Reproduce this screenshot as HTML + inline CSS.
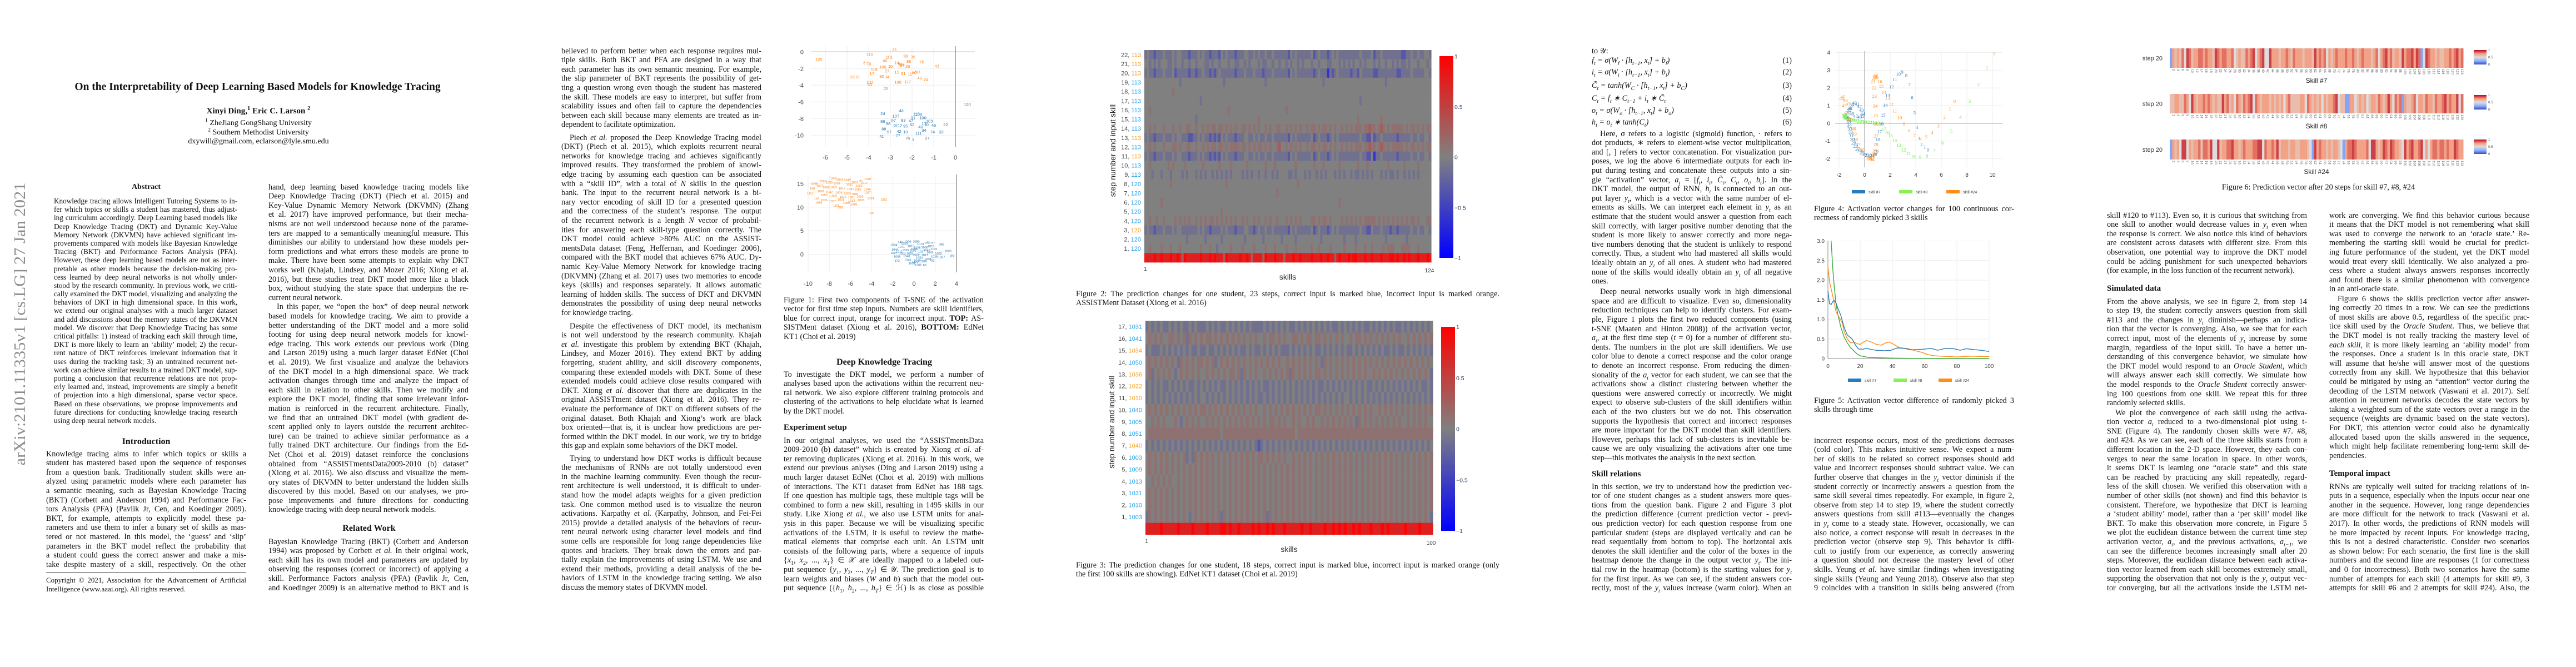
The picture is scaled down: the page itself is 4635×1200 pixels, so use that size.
<!DOCTYPE html>
<html><head><meta charset="utf-8">
<style>
body{margin:0;width:4635px;height:1200px;position:relative;background:#fff;overflow:hidden;font-family:"Liberation Serif",serif;color:#111}
.pg{position:absolute;top:0;width:927px;height:1200px}
.c{position:absolute;width:360px;font-size:14.2px;line-height:16.6px}
.c div{height:16.6px;overflow:hidden;text-align:justify;text-align-last:justify}
.c div.e{text-align-last:left}
.c div.i{text-indent:15px}
.ab{font-size:13.2px;line-height:15.2px;width:330px}
.ab div{height:15.2px}
.h{position:absolute;font-weight:bold;white-space:nowrap}
sub,sup{line-height:0;font-size:70%}
svg text{font-family:"Liberation Sans",sans-serif}
</style></head><body>
<svg id="figs" width="4635" height="1200" style="position:absolute;left:0;top:0" xmlns="http://www.w3.org/2000/svg">
<text x="0" y="0" transform="translate(45,583) rotate(-90)" text-anchor="middle" textLength="509" lengthAdjust="spacingAndGlyphs" style="font-family:'Liberation Serif',serif;font-size:29px;fill:#8c8c8c">arXiv:2101.11335v1  [cs.LG]  27 Jan 2021</text>
</svg>

<!-- PAGE 1 -->
<div class="pg" style="left:0">
<div class="h" style="left:0;width:927px;text-align:center;top:146px;font-size:19.5px">On the Interpretability of Deep Learning Based Models for Knowledge Tracing</div>
<div class="h" style="left:0;width:930px;text-align:center;top:192px;font-size:15px">Xinyi Ding,<sup>1</sup> Eric C. Larson <sup>2</sup></div>
<div style="position:absolute;left:0;width:930px;text-align:center;top:214px;font-size:14px;line-height:16.6px"><sup>1</sup> ZheJiang GongShang University<br><sup>2</sup> Southern Methodist University<br>dxywill@gmail.com, eclarson@lyle.smu.edu</div>
<div class="h" style="left:83px;width:360px;text-align:center;top:329px;font-size:14px">Abstract</div>
<div class="c ab" style="left:97px;top:354px">
<div>Knowledge tracing allows Intelligent Tutoring Systems to in-</div>
<div>fer which topics or skills a student has mastered, thus adjust-</div>
<div>ing curriculum accordingly. Deep Learning based models like</div>
<div>Deep Knowledge Tracing (DKT) and Dynamic Key-Value</div>
<div>Memory Network (DKVMN) have achieved significant im-</div>
<div>provements compared with models like Bayesian Knowledge</div>
<div>Tracing (BKT) and Performance Factors Analysis (PFA).</div>
<div>However, these deep learning based models are not as inter-</div>
<div>pretable as other models because the decision-making pro-</div>
<div>cess learned by deep neural networks is not wholly under-</div>
<div>stood by the research community. In previous work, we criti-</div>
<div>cally examined the DKT model, visualizing and analyzing the</div>
<div>behaviors of DKT in high dimensional space. In this work,</div>
<div>we extend our original analyses with a much larger dataset</div>
<div>and add discussions about the memory states of the DKVMN</div>
<div>model. We discover that Deep Knowledge Tracing has some</div>
<div>critical pitfalls: 1) instead of tracking each skill through time,</div>
<div>DKT is more likely to learn an ‘ability’ model; 2) the recur-</div>
<div>rent nature of DKT reinforces irrelevant information that it</div>
<div>uses during the tracking task; 3) an untrained recurrent net-</div>
<div>work can achieve similar results to a trained DKT model, sup-</div>
<div>porting a conclusion that recurrence relations are not prop-</div>
<div>erly learned and, instead, improvements are simply a benefit</div>
<div>of projection into a high dimensional, sparse vector space.</div>
<div>Based on these observations, we propose improvements and</div>
<div>future directions for conducting knowledge tracing research</div>
<div class="e">using deep neural network models.</div>
</div>
<div class="h" style="left:83px;width:360px;text-align:center;top:786px;font-size:16px">Introduction</div>
<div class="c" style="left:83px;top:808.7px">
<div>Knowledge tracing aims to infer which topics or skills a</div>
<div>student has mastered based upon the sequence of responses</div>
<div>from a question bank. Traditionally student skills were an-</div>
<div>alyzed using parametric models where each parameter has</div>
<div>a semantic meaning, such as Bayesian Knowledge Tracing</div>
<div>(BKT) (Corbett and Anderson 1994) and Performance Fac-</div>
<div>tors Analysis (PFA) (Pavlik Jr, Cen, and Koedinger 2009).</div>
<div>BKT, for example, attempts to explicitly model these pa-</div>
<div>rameters and use them to infer a binary set of skills as mas-</div>
<div>tered or not mastered. In this model, the ‘guess’ and ‘slip’</div>
<div>parameters in the BKT model reflect the probability that</div>
<div>a student could guess the correct answer and make a mis-</div>
<div>take despite mastery of a skill, respectively. On the other</div>
</div>
<div style="position:absolute;left:83px;top:1030px;width:360px;border-top:1px solid #333"></div>
<div class="c" style="left:83px;top:1036px;font-size:13px;line-height:16px">
<div style="height:16px">Copyright © 2021, Association for the Advancement of Artificial</div>
<div class="e" style="height:16px">Intelligence (www.aaai.org). All rights reserved.</div>
</div>
<div class="c" style="left:483px;top:328.7px">
<div>hand, deep learning based knowledge tracing models like</div>
<div>Deep Knowledge Tracing (DKT) (Piech et al. 2015) and</div>
<div>Key-Value Dynamic Memory Network (DKVMN) (Zhang</div>
<div>et al. 2017) have improved performance, but their mecha-</div>
<div>nisms are not well understood because none of the parame-</div>
<div>ters are mapped to a semantically meaningful measure. This</div>
<div>diminishes our ability to understand how these models per-</div>
<div>form predictions and what errors these models are prone to</div>
<div>make. There have been some attempts to explain why DKT</div>
<div>works well (Khajah, Lindsey, and Mozer 2016; Xiong et al.</div>
<div>2016), but these studies treat DKT model more like a black</div>
<div>box, without studying the state space that underpins the re-</div>
<div class="e">current neural network.</div>
<div class="i">In this paper, we “open the box” of deep neural network</div>
<div>based models for knowledge tracing. We aim to provide a</div>
<div>better understanding of the DKT model and a more solid</div>
<div>footing for using deep neural network models for knowl-</div>
<div>edge tracing. This work extends our previous work (Ding</div>
<div>and Larson 2019) using a much larger dataset EdNet (Choi</div>
<div>et al. 2019). We first visualize and analyze the behaviors</div>
<div>of the DKT model in a high dimensional space. We track</div>
<div>activation changes through time and analyze the impact of</div>
<div>each skill in relation to other skills. Then we modify and</div>
<div>explore the DKT model, finding that some irrelevant infor-</div>
<div>mation is reinforced in the recurrent architecture. Finally,</div>
<div>we find that an untrained DKT model (with gradient de-</div>
<div>scent applied only to layers outside the recurrent architec-</div>
<div>ture) can be trained to achieve similar performance as a</div>
<div>fully trained DKT architecture. Our findings from the Ed-</div>
<div>Net (Choi et al. 2019) dataset reinforce the conclusions</div>
<div>obtained from “ASSISTmentsData2009-2010 (b) dataset”</div>
<div>(Xiong et al. 2016). We also discuss and visualize the mem-</div>
<div>ory states of DKVMN to better understand the hidden skills</div>
<div>discovered by this model. Based on our analyses, we pro-</div>
<div>pose improvements and future directions for conducting</div>
<div class="e">knowledge tracing with deep neural network models.</div>
</div>
<div class="h" style="left:483px;width:362px;text-align:center;top:942px;font-size:16px">Related Work</div>
<div class="c" style="left:483px;top:966.7px">
<div>Bayesian Knowledge Tracing (BKT) (Corbett and Anderson</div>
<div>1994) was proposed by Corbett <i>et al.</i> In their original work,</div>
<div>each skill has its own model and parameters are updated by</div>
<div>observing the responses (correct or incorrect) of applying a</div>
<div>skill. Performance Factors analysis (PFA) (Pavlik Jr, Cen,</div>
<div>and Koedinger 2009) is an alternative method to BKT and is</div>
</div>
</div>

<!-- PAGE 2 -->
<div class="pg" style="left:927px">
<div class="c" style="left:83px;top:83.7px">
<div>believed to perform better when each response requires mul-</div>
<div>tiple skills. Both BKT and PFA are designed in a way that</div>
<div>each parameter has its own semantic meaning. For example,</div>
<div>the slip parameter of BKT represents the possibility of get-</div>
<div>ting a question wrong even though the student has mastered</div>
<div>the skill. These models are easy to interpret, but suffer from</div>
<div>scalability issues and often fail to capture the dependencies</div>
<div>between each skill because many elements are treated as in-</div>
<div class="e">dependent to facilitate optimization.</div>
</div>
<div class="c" style="left:83px;top:239.7px">
<div class="i">Piech <i>et al.</i> proposed the Deep Knowledge Tracing model</div>
<div>(DKT) (Piech et al. 2015), which exploits recurrent neural</div>
<div>networks for knowledge tracing and achieves significantly</div>
<div>improved results. They transformed the problem of knowl-</div>
<div>edge tracing by assuming each question can be associated</div>
<div>with a “skill ID”, with a total of <i>N</i> skills in the question</div>
<div>bank. The input to the recurrent neural network is a bi-</div>
<div>nary vector encoding of skill ID for a presented question</div>
<div>and the correctness of the student’s response. The output</div>
<div>of the recurrent network is a length <i>N</i> vector of probabil-</div>
<div>ities for answering each skill-type question correctly. The</div>
<div>DKT model could achieve &gt;80% AUC on the ASSIST-</div>
<div>mentsData dataset (Feng, Heffernan, and Koedinger 2006),</div>
<div>compared with the BKT model that achieves 67% AUC. Dy-</div>
<div>namic Key-Value Memory Network for knowledge tracing</div>
<div>(DKVMN) (Zhang et al. 2017) uses two memories to encode</div>
<div>keys (skills) and responses separately. It allows automatic</div>
<div>learning of hidden skills. The success of DKT and DKVMN</div>
<div>demonstrates the possibility of using deep neural networks</div>
<div class="e">for knowledge tracing.</div>
</div>
<div class="c" style="left:83px;top:578.7px">
<div class="i">Despite the effectiveness of DKT model, its mechanism</div>
<div>is not well understood by the research community. Khajah</div>
<div><i>et al.</i> investigate this problem by extending BKT (Khajah,</div>
<div>Lindsey, and Mozer 2016). They extend BKT by adding</div>
<div>forgetting, student ability, and skill discovery components,</div>
<div>comparing these extended models with DKT. Some of these</div>
<div>extended models could achieve close results compared with</div>
<div>DKT. Xiong <i>et al.</i> discover that there are duplicates in the</div>
<div>original ASSISTment dataset (Xiong et al. 2016). They re-</div>
<div>evaluate the performance of DKT on different subsets of the</div>
<div>original dataset. Both Khajah and Xiong’s work are black</div>
<div>box oriented—that is, it is unclear how predictions are per-</div>
<div>formed within the DKT model. In our work, we try to bridge</div>
<div class="e">this gap and explain some behaviors of the DKT model.</div>
</div>
<div class="c" style="left:83px;top:816.7px">
<div class="i">Trying to understand how DKT works is difficult because</div>
<div>the mechanisms of RNNs are not totally understood even</div>
<div>in the machine learning community. Even though the recur-</div>
<div>rent architecture is well understood, it is difficult to under-</div>
<div>stand how the model adapts weights for a given prediction</div>
<div>task. One common method used is to visualize the neuron</div>
<div>activations. Karpathy <i>et al.</i> (Karpathy, Johnson, and Fei-Fei</div>
<div>2015) provide a detailed analysis of the behaviors of recur-</div>
<div>rent neural network using character level models and find</div>
<div>some cells are responsible for long range dependencies like</div>
<div>quotes and brackets. They break down the errors and par-</div>
<div>tially explain the improvements of using LSTM. We use and</div>
<div>extend their methods, providing a detail analysis of the be-</div>
<div>haviors of LSTM in the knowledge tracing setting. We also</div>
<div class="e">discuss the memory states of DKVMN model.</div>
</div>
<div class="c" style="left:483px;top:531.7px">
<div>Figure 1: First two components of T-SNE of the activation</div>
<div>vector for first time step inputs. Numbers are skill identifiers,</div>
<div>blue for correct input, orange for incorrect input. <b>TOP:</b> AS-</div>
<div>SISTMent dataset (Xiong et al. 2016), <b>BOTTOM:</b> EdNet</div>
<div class="e">KT1 (Choi et al. 2019)</div>
</div>
<div class="h" style="left:483px;width:362px;text-align:center;top:643px;font-size:16px">Deep Knowledge Tracing</div>
<div class="c" style="left:483px;top:665.7px">
<div>To investigate the DKT model, we perform a number of</div>
<div>analyses based upon the activations within the recurrent neu-</div>
<div>ral network. We also explore different training protocols and</div>
<div>clustering of the activations to help elucidate what is learned</div>
<div class="e">by the DKT model.</div>
</div>
<div class="h" style="left:483px;top:761px;font-size:15px">Experiment setup</div>
<div class="c" style="left:483px;top:784.7px">
<div>In our original analyses, we used the “ASSISTmentsData</div>
<div>2009-2010 (b) dataset” which is created by Xiong <i>et al.</i> af-</div>
<div>ter removing duplicates (Xiong et al. 2016). In this work, we</div>
<div>extend our previous anlyses (Ding and Larson 2019) using a</div>
<div>much larger dataset EdNet (Choi et al. 2019) with millions</div>
<div>of interactions. The KT1 dataset from EdNet has 188 tags.</div>
<div>If one question has multiple tags, these multiple tags will be</div>
<div>combined to form a new skill, resulting in 1495 skills in our</div>
<div>study. Like Xiong <i>et al.</i>, we also use LSTM units for anal-</div>
<div>ysis in this paper. Because we will be visualizing specific</div>
<div>activations of the LSTM, it is useful to review the mathe-</div>
<div>matical elements that comprise each unit. An LSTM unit</div>
<div>consists of the following parts, where a sequence of inputs</div>
<div>{<i>x</i><sub>1</sub>, <i>x</i><sub>2</sub>, ..., <i>x<sub>T</sub></i>} ∈ 𝒳 are ideally mapped to a labeled out-</div>
<div>put sequence {<i>y</i><sub>1</sub>, <i>y</i><sub>2</sub>, ..., <i>y<sub>T</sub></i>} ∈ 𝒴. The prediction goal is to</div>
<div>learn weights and biases (<i>W</i> and <i>b</i>) such that the model out-</div>
<div>put sequence ({<i>h</i><sub>1</sub>, <i>h</i><sub>2</sub>, ..., <i>h<sub>T</sub></i>} ∈ ℋ) is as close as possible</div>
</div>
</div>

<!-- PAGE 3 -->
<div class="pg" style="left:1854px">
<div class="c" style="left:82px;top:520.7px;width:762px">
<div>Figure 2: The prediction changes for one student, 23 steps, correct input is marked blue, incorrect input is marked orange.</div>
<div class="e">ASSISTMent Dataset (Xiong et al. 2016)</div>
</div>
<div class="c" style="left:82px;top:1008.7px;width:762px">
<div>Figure 3: The prediction changes for one student, 18 steps, correct input is marked blue, incorrect input is marked orange (only</div>
<div class="e">the first 100 skills are showing). EdNet KT1 dataset (Choi et al. 2019)</div>
</div>
</div>

<!-- PAGE 4 -->
<div class="pg" style="left:2781px">
<div class="c" style="left:83px;top:83.7px">
<div class="e">to 𝒴:</div>
<div class="e" style="position:absolute;top:17px;width:360px;text-align:center;font-style:italic">f<sub>t</sub> = σ(W<sub>f</sub> · [h<sub>t−1</sub>, x<sub>t</sub>] + b<sub>f</sub>)<span style="position:absolute;right:0;font-style:normal">(1)</span></div>
<div class="e" style="position:absolute;top:38px;width:360px;text-align:center;font-style:italic">i<sub>t</sub> = σ(W<sub>i</sub> · [h<sub>t−1</sub>, x<sub>t</sub>] + b<sub>i</sub>)<span style="position:absolute;right:0;font-style:normal">(2)</span></div>
<div class="e" style="position:absolute;top:62px;width:360px;text-align:center;font-style:italic">C̃<sub>t</sub> = tanh(W<sub>C</sub> · [h<sub>t−1</sub>, x<sub>t</sub>] + b<sub>C</sub>)<span style="position:absolute;right:0;font-style:normal">(3)</span></div>
<div class="e" style="position:absolute;top:85px;width:360px;text-align:center;font-style:italic">C<sub>t</sub> = f<sub>t</sub> ∗ C<sub>t−1</sub> + i<sub>t</sub> ∗ C̃<sub>t</sub><span style="position:absolute;right:0;font-style:normal">(4)</span></div>
<div class="e" style="position:absolute;top:107px;width:360px;text-align:center;font-style:italic">o<sub>t</sub> = σ(W<sub>o</sub> · [h<sub>t−1</sub>, x<sub>t</sub>] + b<sub>o</sub>)<span style="position:absolute;right:0;font-style:normal">(5)</span></div>
<div class="e" style="position:absolute;top:128px;width:360px;text-align:center;font-style:italic">h<sub>t</sub> = o<sub>t</sub> ∗ tanh(C<sub>t</sub>)<span style="position:absolute;right:0;font-style:normal">(6)</span></div>
</div>
<div class="c" style="left:83px;top:232.7px">
<div class="i">Here, σ refers to a logistic (sigmoid) function, · refers to</div>
<div>dot products, ∗ refers to element-wise vector multiplication,</div>
<div>and [, ] refers to vector concatenation. For visualization pur-</div>
<div>poses, we log the above 6 intermediate outputs for each in-</div>
<div>put during testing and concatenate these outputs into a sin-</div>
<div>gle “activation” vector, <i>a<sub>t</sub></i> = [<i>f<sub>t</sub>, i<sub>t</sub>, C̃<sub>t</sub>, C<sub>t</sub>, o<sub>t</sub>, h<sub>t</sub></i>]. In the</div>
<div>DKT model, the output of RNN, <i>h<sub>t</sub></i> is connected to an out-</div>
<div>put layer <i>y<sub>t</sub></i>, which is a vector with the same number of el-</div>
<div>ements as skills. We can interpret each element in <i>y<sub>t</sub></i> as an</div>
<div>estimate that the student would answer a question from each</div>
<div>skill correctly, with larger positive number denoting that the</div>
<div>student is more likely to answer correctly and more nega-</div>
<div>tive numbers denoting that the student is unlikely to respond</div>
<div>correctly. Thus, a student who had mastered all skills would</div>
<div>ideally obtain an <i>y<sub>t</sub></i> of all ones. A student who had mastered</div>
<div>none of the skills would ideally obtain an <i>y<sub>t</sub></i> of all negative</div>
<div class="e">ones.</div>
</div>
<div class="c" style="left:83px;top:517.2px">
<div class="i">Deep neural networks usually work in high dimensional</div>
<div>space and are difficult to visualize. Even so, dimensionality</div>
<div>reduction techniques can help to identify clusters. For exam-</div>
<div>ple, Figure 1 plots the first two reduced components (using</div>
<div>t-SNE (Maaten and Hinton 2008)) of the activation vector,</div>
<div><i>a<sub>t</sub></i>, at the first time step (<i>t</i> = 0) for a number of different stu-</div>
<div>dents. The numbers in the plot are skill identifiers. We use</div>
<div>color blue to denote a correct response and the color orange</div>
<div>to denote an incorrect response. From reducing the dimen-</div>
<div>sionality of the <i>a<sub>t</sub></i> vector for each student, we can see that the</div>
<div>activations show a distinct clustering between whether the</div>
<div>questions were answered correctly or incorrectly. We might</div>
<div>expect to observe sub-clusters of the skill identifiers within</div>
<div>each of the two clusters but we do not. This observation</div>
<div>supports the hypothesis that correct and incorrect responses</div>
<div>are more important for the DKT model than skill identifiers.</div>
<div>However, perhaps this lack of sub-clusters is inevitable be-</div>
<div>cause we are only visualizing the activations after one time</div>
<div class="e">step—this motivates the analysis in the next section.</div>
</div>
<div class="h" style="left:83px;top:845px;font-size:15px">Skill relations</div>
<div class="c" style="left:83px;top:867.7px">
<div>In this section, we try to understand how the prediction vec-</div>
<div>tor of one student changes as a student answers more ques-</div>
<div>tions from the question bank. Figure 2 and Figure 3 plot</div>
<div>the prediction difference (current prediction vector - previ-</div>
<div>ous prediction vector) for each question response from one</div>
<div>particular student (steps are displayed vertically and can be</div>
<div>read sequentially from bottom to top). The horizontal axis</div>
<div>denotes the skill identifier and the color of the boxes in the</div>
<div>heatmap denote the change in the output vector <i>y<sub>t</sub></i>. The ini-</div>
<div>tial row in the heatmap (bottom) is the starting values for <i>y<sub>t</sub></i></div>
<div>for the first input. As we can see, if the student answers cor-</div>
<div>rectly, most of the <i>y<sub>t</sub></i> values increase (warm color). When an</div>
</div>
<div class="c" style="left:483px;top:367.7px">
<div>Figure 4: Activation vector changes for 100 continuous cor-</div>
<div class="e">rectness of randomly picked 3 skills</div>
</div>
<div class="c" style="left:483px;top:712.7px">
<div>Figure 5: Activation vector difference of randomly picked 3</div>
<div class="e">skills through time</div>
</div>
<div class="c" style="left:483px;top:784.7px">
<div>incorrect response occurs, most of the predictions decreases</div>
<div>(cold color). This makes intuitive sense. We expect a num-</div>
<div>ber of skills to be related so correct responses should add</div>
<div>value and incorrect responses should subtract value. We can</div>
<div>further observe that changes in the <i>y<sub>t</sub></i> vector diminish if the</div>
<div>student correctly or incorrectly answers a question from the</div>
<div>same skill several times repeatedly. For example, in figure 2,</div>
<div>observe from step 14 to step 19, where the student correctly</div>
<div>answers questions from skill #113—eventually the changes</div>
<div>in <i>y<sub>t</sub></i> come to a steady state. However, occasionally, we can</div>
<div>also notice, a correct response will result in decreases in the</div>
<div>prediction vector (observe step 9). This behavior is diffi-</div>
<div>cult to justify from our experience, as correctly answering</div>
<div>a question should not decrease the mastery level of other</div>
<div>skills. Yeung <i>et al.</i> have similar findings when investigating</div>
<div>single skills (Yeung and Yeung 2018). Observe also that step</div>
<div>9 coincides with a transition in skills being answered (from</div>
</div>
</div>

<!-- PAGE 5 -->
<div class="pg" style="left:3708px">
<div style="position:absolute;left:0;width:927px;text-align:center;top:329px;font-size:14.2px;line-height:16.6px">Figure 6: Prediction vector after 20 steps for skill #7, #8, #24</div>
<div class="c" style="left:83px;top:379.7px">
<div>skill #120 to #113). Even so, it is curious that switching from</div>
<div>one skill to another would decrease values in <i>y<sub>t</sub></i> even when</div>
<div>the response is correct. We also notice this kind of behaviors</div>
<div>are consistent across datasets with different size. From this</div>
<div>observation, one potential way to improve the DKT model</div>
<div>could be adding punishment for such unexpected behaviors</div>
<div class="e">(for example, in the loss function of the recurrent network).</div>
</div>
<div class="h" style="left:83px;top:511px;font-size:15px">Simulated data</div>
<div class="c" style="left:83px;top:534.7px">
<div>From the above analysis, we see in figure 2, from step 14</div>
<div>to step 19, the student correctly answers question from skill</div>
<div>#113 and the changes in <i>y<sub>t</sub></i> diminish—perhaps an indica-</div>
<div>tion that the vector is converging. Also, we see that for each</div>
<div>correct input, most of the elements of <i>y<sub>t</sub></i> increase by some</div>
<div>margin, regardless of the input skill. To have a better un-</div>
<div>derstanding of this convergence behavior, we simulate how</div>
<div>the DKT model would respond to an <i>Oracle Student</i>, which</div>
<div>will always answer each skill correctly. We simulate how</div>
<div>the model responds to the <i>Oracle Student</i> correctly answer-</div>
<div>ing 100 questions from one skill. We repeat this for three</div>
<div class="e">randomly selected skills.</div>
</div>
<div class="c" style="left:83px;top:734.7px">
<div class="i">We plot the convergence of each skill using the activa-</div>
<div>tion vector <i>a<sub>t</sub></i> reduced to a two-dimensional plot using t-</div>
<div>SNE (Figure 4). The randomly chosen skills were #7. #8,</div>
<div>and #24. As we can see, each of the three skills starts from a</div>
<div>different location in the 2-D space. However, they each con-</div>
<div>verges to near the same location in space. In other words,</div>
<div>it seems DKT is learning one “oracle state” and this state</div>
<div>can be reached by practicing any skill repeatedly, regard-</div>
<div>less of the skill chosen. We verified this observation with a</div>
<div>number of other skills (not shown) and find this behavior is</div>
<div>consistent. Therefore, we hypothesize that DKT is learning</div>
<div>a ‘student ability’ model, rather than a ‘per skill’ model like</div>
<div>BKT. To make this observation more concrete, in Figure 5</div>
<div>we plot the euclidean distance between the current time step</div>
<div>activation vector, <i>a<sub>t</sub></i>, and the previous activations, <i>a<sub>t−1</sub></i>, we</div>
<div>can see the difference becomes increasingly small after 20</div>
<div>steps. Moreover, the euclidean distance between each activa-</div>
<div>tion vector learned from each skill becomes extremely small,</div>
<div>supporting the observation that not only is the <i>y<sub>t</sub></i> output vec-</div>
<div>tor converging, but all the activations inside the LSTM net-</div>
</div>
<div class="c" style="left:483px;top:379.7px">
<div>work are converging. We find this behavior curious because</div>
<div>it means that the DKT model is not remembering what skill</div>
<div>was used to converge the network to an ‘oracle state.’ Re-</div>
<div>membering the starting skill would be crucial for predict-</div>
<div>ing future performance of the student, yet the DKT model</div>
<div>would treat every skill identically. We also analyzed a pro-</div>
<div>cess where a student always answers responses incorrectly</div>
<div>and found there is a similar phenomenon with convergence</div>
<div class="e">in an anti-oracle state.</div>
</div>
<div class="c" style="left:483px;top:529.7px">
<div class="i">Figure 6 shows the skills prediction vector after answer-</div>
<div>ing correctly 20 times in a row. We can see the predictions</div>
<div>of most skills are above 0.5, regardless of the specific prac-</div>
<div>tice skill used by the <i>Oracle Student</i>. Thus, we believe that</div>
<div>the DKT model is not really tracking the mastery level of</div>
<div><i>each skill</i>, it is more likely learning an ‘ability model’ from</div>
<div>the responses. Once a student is in this oracle state, DKT</div>
<div>will assume that he/she will answer most of the questions</div>
<div>correctly from any skill. We hypothesize that this behavior</div>
<div>could be mitigated by using an “attention” vector during the</div>
<div>decoding of the LSTM network (Vaswani et al. 2017). Self</div>
<div>attention in recurrent networks decodes the state vectors by</div>
<div>taking a weighted sum of the state vectors over a range in the</div>
<div>sequence (weights are dynamic based on the state vectors).</div>
<div>For DKT, this attention vector could also be dynamically</div>
<div>allocated based upon the skills answered in the sequence,</div>
<div>which might help facilitate remembering long-term skill de-</div>
<div class="e">pendencies.</div>
</div>
<div class="h" style="left:483px;top:844px;font-size:15px">Temporal impact</div>
<div class="c" style="left:483px;top:867.7px">
<div>RNNs are typically well suited for tracking relations of in-</div>
<div>puts in a sequence, especially when the inputs occur near one</div>
<div>another in the sequence. However, long range dependencies</div>
<div>are more difficult for the network to track (Vaswani et al.</div>
<div>2017). In other words, the predictions of RNN models will</div>
<div>be more impacted by recent inputs. For knowledge tracing,</div>
<div>this is not a desired characteristic. Consider two scenarios</div>
<div>as shown below: For each scenario, the first line is the skill</div>
<div>numbers and the second line are responses (1 for correctness</div>
<div>and 0 for incorrectness). Both two scenarios have the same</div>
<div>number of attempts for each skill (4 attempts for skill #9, 3</div>
<div>attempts for skill #6 and 2 attempts for skill #24). Also, the</div>
</div>
</div>

<script>
// ===== Figure 1 data (t-SNE) =====
const f1TopOrange=[["41",-2.8,0.3],["110",-3.95,-0.3],["101",-3.05,-0.65],["38",-2.3,-0.5],["36",-1.95,-0.6],["86",-2.15,-1.15],["76",-1.55,-1.2],["43",-0.85,-1.7],["3",-4.2,-1.3],["79",-4.0,-1.45],["40",-3.25,-1.05],["88",-2.45,-1.5],["14",-2.7,-1.3],["9",-2.6,-1.45],["87",-2.45,-1.6],["10",-3.0,-1.75],["100",-3.35,-1.8],["26",-2.2,-1.75],["119",-3.75,-2.15],["57",-3.15,-2.3],["15",-2.7,-2.45],["91",-2.4,-2.6],["11",-2.1,-2.65],["59",-1.75,-2.4],["60",-1.9,-2.5],["17",-3.85,-2.6],["48",-1.65,-3.15],["24",-1.35,-3.35],["22",-4.75,-3.0],["21",-4.5,-3.0],["34",-3.15,-3.0],["30",-3.4,-2.95],["108",-2.65,-3.65],["117",-2.2,-3.6],["103",-3.95,-3.65],["33",-3.95,-3.95],["25",-3.2,-4.4],["120",-6.3,-0.9]];
const f1TopBlue=[["43",-2.5,-7.05],["24",-3.35,-7.4],["107",-2.75,-7.7],["110",-1.8,-7.45],["108",-1.7,-7.5],["31",-1.95,-7.9],["100",-1.5,-7.9],["103",-1.2,-8.3],["86",-3.35,-8.35],["97",-2.85,-8.25],["47",-2.05,-8.25],["83",-2.4,-8.2],["17",-1.45,-8.6],["65",-1.3,-8.7],["46",-1.0,-8.8],["22",-0.45,-8.75],["98",-3.1,-8.6],["5",-2.8,-8.8],["112",-2.6,-8.85],["95",-2.3,-8.9],["62",-2.0,-8.75],["40",-1.6,-9.0],["88",-3.3,-9.25],["34",-1.45,-9.4],["57",-3.05,-9.6],["42",-2.6,-9.55],["19",-2.3,-9.6],["111",-1.7,-9.75],["74",-1.05,-9.6],["32",-0.65,-9.6],["41",-3.4,-10.15],["77",-2.65,-10.05],["76",-2.2,-10.35],["1",-1.95,-10.55],["27",-1.3,-10.35],["120",0.55,-6.35]];
const f1BotOrange=[["1065",-7.6,16.2],["1004",-7.0,15.9],["1049",-6.3,15.8],["91",-5.0,15.6],["1020",-4.4,16.0],["1017",-4.7,15.2],["1007",-5.6,15.3],["1085",-8.6,15.5],["1055",-8.0,15.3],["1039",-7.3,15.1],["1011",-6.1,14.9],["1002",-5.2,14.6],["1045",-4.4,13.8],["1098",-9.4,15.0],["1037",-8.9,14.5],["148",-9.6,14.0],["1060",-8.3,14.2],["1023",-7.6,14.3],["1014",-6.8,14.0],["1031",-6.0,13.9],["1086",-5.3,13.8],["1112",-9.8,13.0],["1069",-8.8,13.4],["1042",-8.0,13.2],["1009",-7.1,13.1],["1003",-6.3,13.0],["1048",-5.6,12.8],["1027",-4.4,13.1],["1050",-8.5,12.6],["1029",-7.6,12.4],["1016",-6.7,12.2],["1061",-5.9,12.1],["1030",-5.1,12.3],["1094",-4.1,11.9],["197",-9.2,11.8],["1036",-8.5,11.5],["1057",-7.7,11.3],["1021",-6.9,11.6],["1012",-5.9,11.4],["1093",-5.0,11.5],["1052",-2.85,11.6],["1059",-9.0,11.0],["1080",-6.4,10.9],["1078",-5.7,10.6],["1111",-7.35,10.4],["281",-6.9,10.0],["190",-4.0,8.8]];
const f1BotBlue=[["140",-1.3,2.6],["1006",-0.6,2.7],["1050",0.2,2.7],["454",1.3,2.5],["57",1.8,2.4],["389",2.6,2.1],["1033",-0.9,2.3],["1019",0.6,2.2],["1015",1.6,1.7],["1004",-1.9,2.0],["1071",-1.2,1.6],["1012",-0.3,1.8],["1026",0.3,1.4],["1008",1.0,1.5],["1021",1.9,1.1],["1898",3.2,0.7],["1044",-1.8,1.0],["1039",-0.8,0.9],["1001",-0.1,0.8],["1017",0.7,0.6],["1041",1.5,0.4],["1062",2.3,0.2],["89",3.6,-0.35],["1097",-1.9,0.3],["1002",-1.1,0.1],["1025",-0.4,0.2],["1009",0.2,-0.1],["1013",1.0,-0.2],["1038",1.9,-0.5],["1067",2.6,-0.6],["1005",-1.6,-0.5],["1048",-0.7,-0.4],["1054",0.5,-0.7],["1003",1.3,-1.0],["752",1.7,-1.3],["372",-1.6,-1.35],["1043",-0.6,-1.2],["1049",0.3,-1.3],["1031",-0.2,-1.9],["1130",0.1,-1.6],["1306",0.4,-2.25],["63",1.0,-2.3],["1028",0.9,-1.5],["1011",-1.4,0.6],["1036",0.0,1.1],["1047",1.2,0.9]];
const f1TopTicksX=[-6,-5,-4,-3,-2,-1,0];
const f1TopTicksY=[0,-2,-4,-6,-8,-10];
const f1BotTicksX=[-10,-8,-6,-4,-2,0,2,4];
const f1BotTicksY=[15,10,5,0];

// ===== Figure 2 / 3 data (heatmaps); digit codes map to values via hmLevels =====
const hmLevels=[-1,-0.6,-0.32,-0.12,0,0.12,0.3,0.75,0.95];
const hm1Steps=[22,21,20,19,18,17,16,15,14,13,12,11,10,9,8,7,6,5,4,3,2,1];
const hm1Skills=[113,113,113,113,113,113,113,113,113,113,113,113,113,113,120,120,120,120,120,120,120,120];
const hm1Correct=[0,0,0,1,1,1,1,1,1,0,1,0,1,1,1,1,1,1,1,0,1,1];
const hm1NumSkills=124;
const hm1Rows=[
"3433233343 3343443332 3334343323 3324343332 3334433434 3343343333 3324343333 3342343332 3434333333 3334333342 3343333333 3223343343 3443",
"4434343444 3343443443 4434443343 4434443443 3443434443 4334434434 4343443434 4434434443 3444343434 3443434443 4344344343 4334344434 4434",
"3433233343 3342333332 3323343323 2343333332 3334333433 3233343333 3324343333 3332343331 3234333332 3324333332 2333333332 2333343333 3443",
"4444444444 4444434444 4444444444 4444344444 4444444444 4434444444 4444444444 4444444344 4444444444 4444444444 4444344444 4444444444 4444",
"4444444444 4454444444 4444444444 4444444444 4444444444 4444444444 4444444444 4444444444 4444444444 4444444444 4444444444 4444444444 4444",
"4444444444 4444444444 4444344444 4444444444 4444444444 4444444444 4444444444 4444444444 4444444444 4443444444 4444444444 4444444444 4444",
"4454444444 4444444444 4444444444 4444445444 4444444444 4444444444 4544444444 4444444444 4444444444 4444444444 4444444444 4444444444 4444",
"4444444444 4444444444 4434444444 4444444444 4444444445 4444444444 4444444444 4444444444 4444444444 4454444444 4454444444 4444444444 4444",
"4454544454 4454454455 4454454545 5455454545 4455454545 4454544554 4545454544 5455454554 5454454545 4555455655 4565454555 5545455454 5455",
"3433233343 3343443332 2334343323 2324343332 3334433434 3343343333 3324343333 3342343332 3434333333 3334332242 3343333332 3333343343 3443",
"4454544454 4455454455 4454454545 5455454555 5455454545 5454544564 4545454544 5455454554 5454454545 4555455655 4565454555 5545455454 5455",
"3433233343 3343443332 3334343323 2324343332 3334433434 3343343333 3324343333 3342343332 3434333333 3334332241 3343333332 3333343343 3443",
"4454444444 5454444544 4444454444 4454444544 4444544444 4454445444 4444454444 4445444544 4444544444 4454445444 4444454444 4454444454 4444",
"4443444344 4344443434 4434343443 4343434344 4434343443 4434434344 4433434443 4344343434 4434343443 4334343434 4434343343 4434343434 4444",
"4444444444 4544444444 4444444444 4444454444 4444444444 4444444444 4444445444 4444444444 4444444444 4444444444 4444444444 4444444444 4444",
"4444444444 4444444444 4444444444 4444444444 4444444444 4444444544 4444444444 4444444444 4444444444 4444444444 4444444444 4444444444 4444",
"4444444544 4444444444 4444444444 4444444444 4444444444 4444444444 4444444444 4444444444 4444544444 4444444444 4444444444 4444444444 4444",
"4444444444 4444444444 4444444444 4445444444 4444444444 4444444444 4444444444 4444444444 4444444444 4444444444 4444444444 4444444444 4444",
"4454454454 4445454545 4454545455 4545454545 4454544545 4454544544 4545454544 4455454554 5444454545 4545455555 4545454545 4545455454 4455",
"3433233343 3343443333 3334343323 3334343332 3334433234 3343343333 3324343333 3342343332 3434333333 3334332243 3343332332 3333343343 3443",
"4444444444 4444444434 4444443444 4443444444 4443444444 4344444443 4444434444 4444443444 4444443444 4344444444 4444344444 4443444444 4444",
"4454444544 4544454444 4444544454 4344444544 4454444544 4454445444 4544454444 4454454444 5444445444 4544454454 4445455544 4555544454 4444",
"7777877877 7877876877 7777877787 8777687777 7877876777 7687778777 6777877877 7787778778 7767877787 8877787787 7787778878 7787877787 7787"];
const hm2Steps=[17,16,15,14,13,12,11,10,9,8,7,6,5,4,3,2,1];
const hm2Skills=[1031,1041,1034,1050,1036,1022,1010,1040,1005,1051,1040,1003,1009,1013,1031,1010,1003];
const hm2Correct=[1,1,0,1,0,0,0,1,1,1,0,1,1,1,1,1,1];
const hm2NumSkills=100;
const hm2Rows=[
"3434343343 4343343433 3434343343 4343434333 3434343434 3343434343 4343433434 3434343343 4343434334 3434343434",
"4545454455 4545354545 4554545454 5454545454 4545545454 4554545545 5454545454 4545545454 5454545454 4545454545",
"3433343434 3434343343 3433434343 4343343433 4343434333 4343434343 3434343434 3343434343 4343343433 4343434343",
"4545454545 4354545455 4545345454 5454545454 5454545445 4545454545 4354545454 5454545454 5454545454 5454545454",
"4534545454 3454545454 4545454545 5453545454 4545454545 3545454545 5454545454 5454545445 4545454545 4545454543",
"3434343343 4343433434 3434343343 4343434343 4334343434 3434343434 3343434343 4343434334 3434343434 3434343343",
"3434343434 3434343434 4343434343 4343434343 3434343434 3434343434 3434343434 4343434343 4343434343 4343434343",
"4545454545 4545454545 5454545454 5454545454 4545454545 4545454545 5454545454 5454545454 4545454545 4545454545",
"4454545444 5434545454 4545454545 4545454545 4545545454 4545445454 4545454545 4543545454 5454545454 4545454544",
"4555555555 5555555555 5555554555 5555555555 5555555555 5545555555 5555555555 5555555555 5555555555 5555555555",
"3434343434 3434343434 3434343434 3434343432 3434343434 3434343434 3434343434 3434343434 3434343434 3434343434",
"4545454545 4545343545 4545454545 4545454545 5454545454 4545454545 4545454545 4545454545 4545454545 4545454545",
"4545454545 4545454545 4545454545 4545454545 4545454545 4545454545 4545454545 4545454545 4545454545 4545454545",
"4454545454 4545454545 4545454545 4545454545 4545454545 4545454545 4545454545 4545454545 4545454545 4545454545",
"4545454545 4545454545 4545454545 4545454545 4545454545 4545454545 4545454545 4545454545 4545454545 4545454545",
"4545454545 4545454545 4545454545 4545454545 4545454545 4545454545 4545454545 4545454545 4545454545 4545454545",
"3545454545 4545434545 4545453545 4545454545 4535454545 4545454545 4545454545 4545454545 4545454545 4545454543",
"7777787777 7877778777 7877778878 7787777878 7787877787 7777877877 7787787878 7787877787 7787877777 8777787777"];
const cbTicks=[1,0.5,0,-0.5,-1];
const cbTickLabels=["1","0.5","0","−0.5","−1"];

// ===== Figure 4 data =====
const f4Skill8X=[10.15,9.57,8.91,8.22,7.5,6.78,6.1,5.46,4.88,4.35,3.87,3.43,3.06,2.68,2.35,2.03,1.77,1.52,1.3,1.0,0.8,0.6,0.4,0.2,0.0,-0.2,-0.4,-0.6,-0.8,-0.95,-1.1,-1.2,-1.3,-1.4,-1.5,-1.55,-1.6,-1.6,-1.55,-1.5,-1.45];
const f4Skill8Y=[3.94,3.16,2.19,1.25,0.36,-0.43,-1.1,-1.57,-1.85,-1.91,-1.88,-1.71,-1.5,-1.23,-0.96,-0.7,-0.51,-0.32,0.0,0.02,0.03,0.05,0.05,0.07,0.08,0.1,0.12,0.15,0.17,0.2,0.22,0.25,0.28,0.3,0.33,0.37,0.4,0.45,0.5,0.38,0.3];
const f4Skill7X=[4.95,4.7,4.45,4.28,4.09,3.91,3.72,3.5,3.26,2.94,2.64,2.36,2.1,1.81,1.62,1.45,1.3,1.17,1.04,0.9,0.8,0.6,0.4,0.2,0.0,-0.2,-0.4,-0.55,-0.7,-0.85,-0.95,-1.05,-1.1,-1.15,-1.2,-1.25,-1.3,-1.25,-1.15,-1.0,-0.8,-0.6,-0.4,-0.25,-0.15,-0.2,-0.4,-0.7,-1.0,-1.2];
const f4Skill7Y=[-1.5,-1.35,-1.2,-0.86,-0.22,0.6,1.45,2.2,2.72,2.9,2.8,2.5,2.07,1.58,1.03,0.47,-0.04,-0.47,-0.91,-1.6,-1.75,-1.8,-1.85,-1.8,-1.75,-1.65,-1.55,-1.45,-1.3,-1.1,-0.9,-0.7,-0.5,-0.3,-0.1,0.1,0.35,0.6,0.85,1.05,1.15,1.1,0.95,0.75,0.55,0.4,0.35,0.4,0.55,0.8];
const f4Skill24X=[7.04,6.68,6.25,5.77,5.29,4.83,4.36,3.9,3.49,3.09,2.74,2.36,2.07,1.78,1.52,1.3,1.19,0.87,0.8,0.9,0.75,0.65,0.75,0.77,0.83,0.87,0.9,0.91,0.88,0.8,0.75,0.65,0.55,0.4,0.6,0.3,-0.2,-0.5,-0.7,-0.8,-0.85,-1.2,-1.4,-1.6,-1.8,-1.7,-1.5,-1.3];
const f4Skill24Y=[1.25,0.82,0.34,-0.14,-0.52,-0.76,-0.84,-0.7,-0.42,-0.04,0.32,0.7,1.08,1.43,1.75,2.1,2.37,2.7,2.65,2.6,2.55,2.37,2.0,1.54,0.99,0.43,-0.05,-0.71,-1.19,-1.55,-1.7,-1.85,-1.95,-2.0,-2.05,-1.95,-1.5,-1.2,-0.9,-0.6,-0.3,0.2,0.6,1.0,1.4,1.5,1.3,1.1];
const f4TicksX=[-2,0,2,4,6,8,10];
const f4TicksY=[4,3,2,1,0,-1,-2];

// ===== Figure 5 data =====
const f5Skill7X=[0,1,2,3,4,5,6,8,10,12,15,17,19,22,24,27,30,35,39,43,47,52,56,60,64,68,73,78,82,86,90,95,100];
const f5Skill7Y=[1.72,1.4,1.38,1.45,1.48,1.42,1.3,1.1,0.8,0.6,0.5,0.35,0.24,0.24,0.26,0.23,0.21,0.2,0.21,0.27,0.26,0.22,0.23,0.24,0.26,0.21,0.26,0.25,0.21,0.25,0.23,0.21,0.18];
const f5Skill8X=[0,2,3,4,5,6,8,10,12,14,16,18,20,25,30,40,60,100];
const f5Skill8Y=[3.6,3.0,2.3,1.8,1.4,1.15,0.8,0.55,0.4,0.28,0.2,0.12,0.07,0.03,0.02,0.01,0.0,0.0];
const f5Skill24X=[0,1,3,5,7,9,10,12,14,16,18,20,22,24,27,30,33,36,38,41,44,48,50,54,58,62,66,70,75,80,85,90,95,100];
const f5Skill24Y=[2.35,1.95,1.6,1.2,1.05,0.9,0.7,0.5,0.4,0.42,0.38,0.36,0.42,0.46,0.42,0.36,0.34,0.4,0.42,0.36,0.28,0.26,0.25,0.2,0.16,0.1,0.07,0.06,0.05,0.04,0.05,0.06,0.05,0.05];
const f5TicksX=[0,20,40,60,80,100];
const f5TicksY=[0,0.5,1.0,1.5,2.0,2.5,3.0];

// ===== Figure 6 data (prediction after 20 steps; b<g<t<o<r<d) =====
const f6Names=["Skill #7","Skill #8","Skill #24"];
const f6Strips=[
"bototrgdrt oorrorootd rorroorgto ttrordgord ggdoootooro troootooot dororgotoro oorooroto roootorgordo rtootdorrd odrbgdroot ottoorordo rdgd",
"ttoottrogd otoororoto ttdortogro trordgroto ootototog orttttoogro totogotoor dgttbboogt otogtootro todogrorbo ttorgootro otroordoro odgr",
"botogddgot oortrrodgg dtoorrdoot orooorrddg r oorodtoooto ottoootgbd oroototoot gborldroooorg ddotodrodr ootgdordoo rdgogorror roroodroot ogrd"];
const f6Levels={b:0.22,g:0.5,t:0.62,o:0.72,r:0.82,l:0.82,d:0.9};
const f6NumSkills=124;

// ===== Drawing =====
const NS='http://www.w3.org/2000/svg';
const svg=document.getElementById('figs');
function el(tag,attrs,parent){const e=document.createElementNS(NS,tag);for(const k in attrs)e.setAttribute(k,attrs[k]);(parent||svg).appendChild(e);return e;}
function txt(s,attrs,parent){const e=el('text',attrs,parent);e.textContent=s;return e;}
const ORANGE='#ff7f0e',BLUE='#1f77b4';
const defs=el('defs',{});

// ---- Figure 1 top ----
const g1=el('g',{});


const f1x=v=>1719+v*39, f1y=v=>93.3-v*15;
f1TopTicksX.forEach(t=>{el('line',{x1:f1x(t),x2:f1x(t),y1:83,y2:264,stroke:'#eee','stroke-width':1},g1);
 const lb=txt(String(t),{x:f1x(t),y:287,'text-anchor':'middle','font-size':11,fill:'#444'},g1);
 
 });
f1TopTicksY.forEach(t=>{el('line',{x1:1459,x2:1754,y1:f1y(t),y2:f1y(t),stroke:t===0?'#aaa':'#eee','stroke-width':1},g1);
 const lb=txt(String(t),{x:1446,y:f1y(t)+4,'text-anchor':'end','font-size':11,fill:'#444'},g1);
 
 });
el('line',{x1:f1x(0),x2:f1x(0),y1:83,y2:264,stroke:'#666','stroke-width':1},g1);
f1TopOrange.forEach(p=>{const t=txt(p[0],{x:f1x(p[1]),y:f1y(p[2])+2.5,'text-anchor':'middle','font-size':7.5,fill:ORANGE},g1);
 
 });
f1TopBlue.forEach(p=>{const t=txt(p[0],{x:f1x(p[1]),y:f1y(p[2])+2.5,'text-anchor':'middle','font-size':7.5,fill:BLUE},g1);
 
 });
// ---- Figure 1 bottom ----
const g1b=el('g',{});


const f1bx=v=>1644.7+v*19.07, f1by=v=>457.5-v*8.47;
f1BotTicksX.forEach(t=>{el('line',{x1:f1bx(t),x2:f1bx(t),y1:314,y2:490,stroke:'#eee','stroke-width':1},g1b);
 const lb=txt(String(t),{x:f1bx(t),y:514,'text-anchor':'middle','font-size':11,fill:'#444'},g1b);
 
 });
f1BotTicksY.forEach(t=>{el('line',{x1:1455,x2:1722,y1:f1by(t),y2:f1by(t),stroke:'#eee','stroke-width':1},g1b);
 const lb=txt(String(t),{x:1446,y:f1by(t)+4,'text-anchor':'end','font-size':11,fill:'#444'},g1b);
 
 });
el('line',{x1:f1bx(4),x2:f1bx(4),y1:314,y2:490,stroke:'#666','stroke-width':1},g1b);
f1BotOrange.forEach(p=>{const t=txt(p[0],{x:f1bx(p[1]),y:f1by(p[2])+2,'text-anchor':'middle','font-size':5.5,fill:ORANGE},g1b);
 
 });
f1BotBlue.forEach(p=>{const t=txt(p[0],{x:f1bx(p[1]),y:f1by(p[2])+2,'text-anchor':'middle','font-size':5.5,fill:BLUE},g1b);
 
 });

// ---- Heatmaps ----
function divColor(v){v=Math.max(-1,Math.min(1,v));let r,g,b;
 if(v>=0){r=128+127*v;g=128-128*v;b=128-128*v;}else{const a=-v;r=128-128*a;g=128-128*a;b=128+127*a;}
 return `rgb(${Math.round(r)},${Math.round(g)},${Math.round(b)})`;}
const cg=el('linearGradient',{id:'cbgrad',x1:0,y1:0,x2:0,y2:1},defs);
cbTicks.forEach((t,i)=>el('stop',{offset:i/(cbTicks.length-1),'stop-color':divColor(t)},cg));
function drawHeat(name,rows,steps,skills,correct,nCols,x0,x1,y0,y1,cbY0,cbY1,yTitleX){
 const g=el('g',{});
 
 
 const nR=rows.length, cw=(x1-x0)/nCols, rh=(y1-y0)/nR;
 rows.forEach((row,ri)=>{const s=row.replace(/ /g,'');
  for(let c=0;c<nCols;c++){const d=c<s.length?parseInt(s[c]):4;const v=hmLevels[d];
   const r=el('rect',{x:x0+c*cw,y:y0+ri*rh,width:cw+0.6,height:rh+0.3,fill:divColor(v)},g);
   
   }});
 steps.forEach((st,i)=>{const cy=y0+(i+0.5)*rh+4;
  const t=el('text',{x:x0-6,y:cy,'text-anchor':'end','font-size':11},g);
  
  
  const a=el('tspan',{fill:'#444'},t);a.textContent=st+', ';
  const b=el('tspan',{fill:correct[i]?'#1fa0f0':'#f5a020'},t);b.textContent=String(skills[i]);});
 const cb=el('rect',{x:x1+15,y:cbY0,width:25,height:cbY1-cbY0,fill:'url(#cbgrad)'},g);
 
 
 cbTicks.forEach((t,i)=>{const lb=txt(cbTickLabels[i],{x:x1+42,y:cbY0+(1-t)/2*(cbY1-cbY0)+4,'font-size':10.5,fill:'#2a3f5f'},g);
  
  });
 const l1=txt('1',{x:x0+2,y:y1+15,'text-anchor':'middle','font-size':10,fill:'#333'},g);
 
 
 const l2=txt(String(nCols),{x:x1-3,y:y1+18,'text-anchor':'middle','font-size':10,fill:'#333'},g);
 
 
 const xt=txt('skills',{x:(x0+x1)/2,y:y1+31,'text-anchor':'middle','font-size':14,fill:'#222'},g);
 
 
 const yt=txt('step number and input skill',{x:0,y:0,transform:`translate(${yTitleX},${(y0+y1)/2-10}) rotate(-90)`,'text-anchor':'middle','font-size':14,fill:'#222'},g);
 
 }
drawHeat('figure-2-heatmap',hm1Rows,hm1Steps,hm1Skills,hm1Correct,hm1NumSkills,2059,2575,90,472,101,464,2007);
drawHeat('figure-3-heatmap',hm2Rows,hm2Steps,hm2Skills,hm2Correct,hm2NumSkills,2061,2578,577,962,588,955,2005);

// ---- Figure 4 ----
const g4=el('g',{});


const f4x=v=>3355+v*23, f4y=v=>221.8-v*31.8;
f4TicksX.forEach(t=>{el('line',{x1:f4x(t),x2:f4x(t),y1:92,y2:301,stroke:'#eee'},g4);
 const lb=txt(String(t),{x:f4x(t),y:318,'text-anchor':'middle','font-size':10,fill:'#333'},g4);
 
 });
f4TicksY.forEach(t=>{el('line',{x1:3302,x2:3603,y1:f4y(t),y2:f4y(t),stroke:'#eee'},g4);
 const lb=txt(String(t),{x:3293,y:f4y(t)+3.5,'text-anchor':'end','font-size':10,fill:'#333'},g4);
 
 });
el('line',{x1:f4x(0),x2:f4x(0),y1:92,y2:301,stroke:'#999'},g4);
el('line',{x1:3302,x2:3603,y1:f4y(0),y2:f4y(0),stroke:'#999'},g4);
function f4Series(xs,ys,col,nm){xs.forEach((x,i)=>{const t=txt(String(i),{x:f4x(x),y:f4y(ys[i])+3,'text-anchor':'middle','font-size':8.5,fill:col,style:"font-family:'Liberation Serif',serif"},g4);
 
 });}
f4Series(f4Skill8X,f4Skill8Y,'#66ee44','point-skill-8');
f4Series(f4Skill7X,f4Skill7Y,'#2b7bba','point-skill-7');
f4Series(f4Skill24X,f4Skill24Y,'#ff8c1a','point-skill-24');
function legend(g,y,items){items.forEach(it=>{const r=el('rect',{x:it[0],y:y-3,width:24,height:6,fill:it[1]},g);
 
 
 const t=txt(it[2],{x:it[0]+30,y:y+3,'font-size':7,fill:'#444'},g);
 
 });}
legend(g4,345,[[3332,'#2b7bba','skill #7'],[3417,'#88f055','skill #8'],[3502,'#ff8c1a','skill #24']]);

// ---- Figure 5 ----
const g5=el('g',{});


const f5x=v=>3289+v*2.9, f5y=v=>645-v*70.5;
f5TicksY.forEach(t=>{el('line',{x1:3289,x2:3579,y1:f5y(t),y2:f5y(t),stroke:'#eee'},g5);
 const lb=txt(t===0?'0':t.toFixed(1),{x:3283,y:f5y(t)+3.5,'text-anchor':'end','font-size':10,fill:'#333'},g5);
 
 });
f5TicksX.forEach(t=>{el('line',{x1:f5x(t),x2:f5x(t),y1:433,y2:645,stroke:'#eee'},g5);
 const lb=txt(String(t),{x:f5x(t),y:662,'text-anchor':'middle','font-size':10,fill:'#333'},g5);
 
 });
el('line',{x1:3289,x2:3289,y1:433,y2:645,stroke:'#888'},g5);
el('line',{x1:3289,x2:3579,y1:645,y2:645,stroke:'#888'},g5);
const cp=el('clipPath',{id:'f5clip'},defs);el('rect',{x:3285,y:433,width:300,height:215},cp);
function f5Line(xs,ys,col,nm){const pts=xs.map((x,i)=>f5x(x)+','+f5y(ys[i])).join(' ');
 const p=el('polyline',{points:pts,fill:'none',stroke:col,'stroke-width':1.4,'clip-path':'url(#f5clip)'},g5);
 
 }
f5Line(f5Skill8X,f5Skill8Y,'#3aa83a','line-skill-8');
f5Line(f5Skill24X,f5Skill24Y,'#ff8c1a','line-skill-24');
f5Line(f5Skill7X,f5Skill7Y,'#2b7bba','line-skill-7');
legend(g5,684,[[3325,'#2b7bba','skill #7'],[3407,'#88f055','skill #8'],[3488,'#ff8c1a','skill #24']]);

// ---- Figure 6 ----
const g6=el('g',{});


function cool(v){const st=[[0,[59,76,192]],[0.25,[141,176,254]],[0.5,[221,221,221]],[0.75,[244,154,123]],[1,[180,4,38]]];
 for(let i=0;i<st.length-1;i++){if(v<=st[i+1][0]){const a=st[i],b=st[i+1],f=(v-a[0])/(b[0]-a[0]);
  return 'rgb('+a[1].map((c,k)=>Math.round(c+(b[1][k]-c)*f)).join(',')+')';}}return 'rgb(180,4,38)';}
const cg6=el('linearGradient',{id:'cwgrad',x1:0,y1:0,x2:0,y2:1},defs);
[1,0.75,0.5,0.25,0].forEach((t,i)=>el('stop',{offset:i/4,'stop-color':cool(t)},cg6));
const f6Y=[[87,122,149,90],[169,204,231,171],[251,287,313,251]];
f6Strips.forEach((s0,k)=>{const s=s0.replace(/ /g,'');const [ya,yb,ylab,cby]=f6Y[k];
 const x0=3904,x1=4432,cw=(x1-x0)/f6NumSkills;
 for(let c=0;c<f6NumSkills;c++){const ch=s[c]||'g';const v=f6Levels[ch]!==undefined?f6Levels[ch]:0.5;
  const r=el('rect',{x:x0+c*cw,y:ya,width:cw+0.5,height:yb-ya,fill:cool(v)},g6);
  
  }
 for(let n=2;n<=f6NumSkills;n+=2){const tx=x0+(n-0.5)*cw;
  const t=txt(String(n),{x:0,y:0,transform:`translate(${tx-2},${yb+2}) rotate(90)`,'font-size':6,fill:'#666'},g6);
  
  }
 const sl=txt('step 20',{x:3891,y:(ya+yb)/2+4,'text-anchor':'end','font-size':11,fill:'#333'},g6);
 
 
 const nl=txt(f6Names[k],{x:(x0+x1)/2,y:ylab,'text-anchor':'middle','font-size':12,fill:'#222'},g6);
 
 
 const cb=el('rect',{x:4451,y:cby,width:23,height:26,fill:'url(#cwgrad)'},g6);
 
 
 [['1',0],['0.5',13],['0',26]].forEach(q=>{const t=txt(q[0],{x:4477,y:cby+q[1]+2,'font-size':6,fill:'#555'},g6);
  
  });});
</script>
</body></html>
